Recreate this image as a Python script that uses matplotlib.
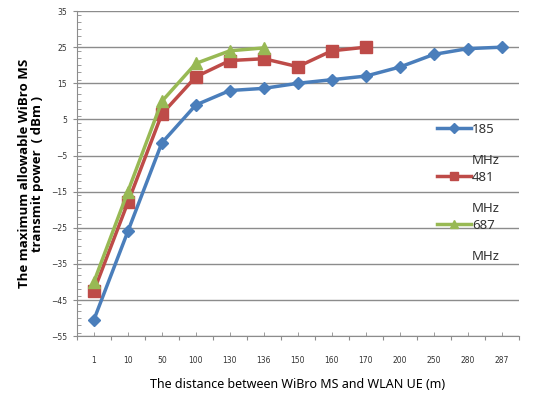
import numpy as np
import matplotlib
matplotlib.use('Agg')
import matplotlib.pyplot as plt
from matplotlib.ticker import MultipleLocator, FixedLocator, NullFormatter

distances = ['1', '10', '50', '100', '130', '136', '150', '160', '170', '200', '250', '280', '287']
p185 = [-50.5, -26, -1.5, 9, 13, 13.6, 15, 16, 17, 19.5, 23, 24.6, 25]
p481 = [-42.5, -18, 6.5, 16.8, 21.3, 21.8, 19.6, 24, 25]
p687 = [-40, -15, 10, 20.5, 24, 24.8]
series_names = ['185', '481', '687']

fig = plt.figure(figsize=(5.49, 3.95), dpi=100)
ax = fig.add_axes([0.140, 0.149, 0.805, 0.823])

x = np.arange(len(distances))
ax.plot(x, p185, '-D', c='#4A7EBB', lw=2.5, ms=6.5, label=series_names[0], zorder=3)
ax.plot(x[:len(p481)], p481, '-s', c='#BE4B48', lw=2.5, ms=8, label=series_names[1], zorder=4)
ax.plot(x[:len(p687)], p687, '-^', c='#98B954', lw=2.5, ms=8, label=series_names[2], zorder=5)

ax.set_xlim(-0.5, len(distances) - 0.5)
ax.set_ylim(-55, 35)
ax.set_yticks(np.arange(-55, 36, 10))
ax.yaxis.set_minor_locator(MultipleLocator(2))
ax.grid(axis='y', which='major', color='#8c8c8c', lw=1)
ax.set_axisbelow(True)

ax.xaxis.set_major_locator(FixedLocator(np.arange(-0.5, len(distances), 1.0)))
ax.xaxis.set_major_formatter(NullFormatter())
ax.set_xticks(x, minor=True)
ax.set_xticklabels(distances, minor=True)

for s in ['top', 'right']:
    ax.spines[s].set_visible(False)
for s in ['left', 'bottom']:
    ax.spines[s].set_color('#8c8c8c')

ax.tick_params(axis='y', which='major', direction='out', length=3, color='#8c8c8c',
               labelsize=5.5, labelcolor='#333333', pad=4)
ax.tick_params(axis='y', which='minor', direction='in', length=3, color='#8c8c8c')
ax.tick_params(axis='x', which='major', direction='out', length=3, color='#8c8c8c')
ax.tick_params(axis='x', which='minor', direction='in', length=3, color='#8c8c8c',
               labelsize=5.5, labelcolor='#333333', pad=14)

ax.set_xlabel('The distance between WiBro MS and WLAN UE (m)', fontsize=9,
              family=['Noto Sans', 'DejaVu Sans'], labelpad=10)
ax.set_ylabel('The maximum allowable WiBro MS\ntransmit power  ( dBm )', fontsize=9.5,
              fontweight='bold', family='Open Sans', labelpad=5, linespacing=1.05)

leg = ax.legend(loc='upper left', bbox_to_anchor=(0.787, 0.693), frameon=False,
                handlelength=2.6, handletextpad=0.1, labelspacing=2.65, markerscale=0.75,
                prop={'family': 'Noto Sans', 'size': 9.5})
for t in leg.get_texts():
    t.set_color('#333333')

fig.canvas.draw()
for t in leg.get_texts():
    bb = t.get_window_extent().transformed(fig.transFigure.inverted())
    fig.text(bb.x0, bb.y0 - 31 / 395, 'MHz', fontsize=9.5, family='Noto Sans',
             color='#333333', va='bottom', ha='left')

plt.savefig('out.png', dpi=100)
